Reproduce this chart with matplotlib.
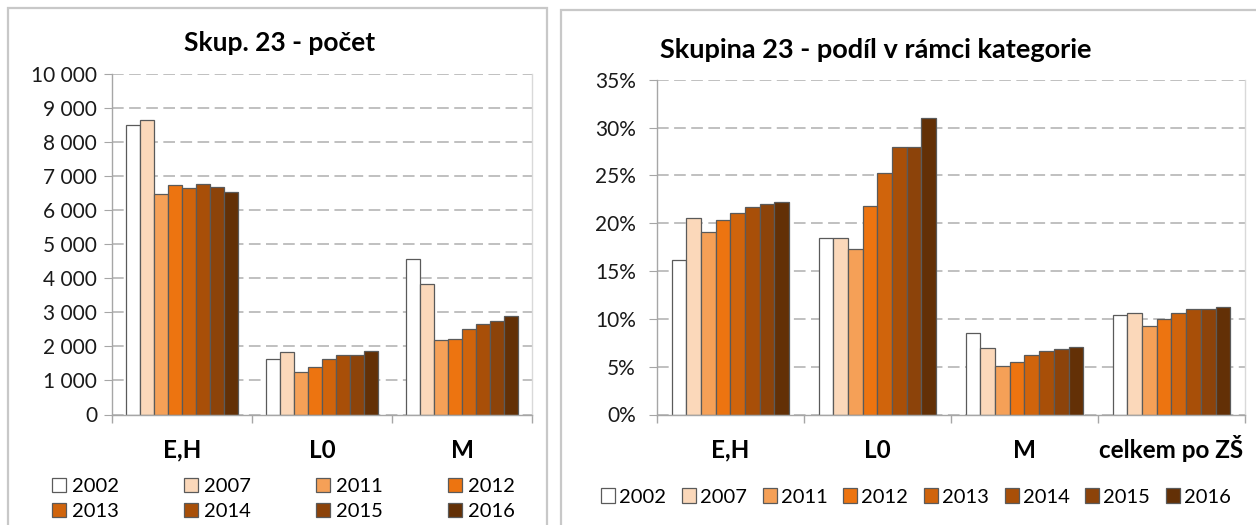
import matplotlib
matplotlib.use("Agg")
import matplotlib.pyplot as plt
import numpy as np
from matplotlib.patches import Rectangle, Patch
from matplotlib.ticker import FuncFormatter, FixedLocator

plt.rcParams['font.family'] = ['Lato', 'DejaVu Sans']

years = ['2002', '2007', '2011', '2012', '2013', '2014', '2015', '2016']
colors = ['#FFFFFF', '#FBD8BA', '#F5A057', '#ED7410', '#D0640C', '#A84F08', '#8C430A', '#633006']

cats_left = ['E,H', 'L0', 'M']
counts = {
    '2002': [8520, 1630, 4560],
    '2007': [8670, 1850, 3840],
    '2011': [6490, 1255, 2190],
    '2012': [6745, 1400, 2225],
    '2013': [6670, 1620, 2510],
    '2014': [6785, 1745, 2665],
    '2015': [6685, 1745, 2745],
    '2016': [6530, 1855, 2905],
}

cats_right = ['E,H', 'L0', 'M', 'celkem po ZŠ']
shares = {
    '2002': [16.1, 18.4, 8.56, 10.42],
    '2007': [20.55, 18.4, 6.92, 10.66],
    '2011': [19.1, 17.35, 5.07, 9.23],
    '2012': [20.3, 21.75, 5.45, 10.03],
    '2013': [21.1, 25.2, 6.25, 10.66],
    '2014': [21.65, 28.0, 6.64, 11.08],
    '2015': [22.05, 28.0, 6.82, 11.08],
    '2016': [22.2, 31.0, 7.09, 11.23],
}

W, H = 1256, 525
fig = plt.figure(figsize=(W / 100, H / 100), dpi=100)

def fx(px):
    return px / W

def fy(py):
    return 1 - py / H

# panel borders
fig.patches.append(Rectangle((fx(8), fy(560)), fx(547) - fx(8), fy(8) - fy(560),
                             transform=fig.transFigure, fill=False, ec='#C8C8C8', lw=1.6))
fig.patches.append(Rectangle((fx(561), fy(560)), fx(1300) - fx(561), fy(9.5) - fy(560),
                             transform=fig.transFigure, fill=False, ec='#C8C8C8', lw=1.6))

edge = '#5A5A5A'
gridc = '#C0C0C0'
axc = '#A6A6A6'

def style_axes(ax, cats, ymax, step, fmt, ticklen, tickpad, label_fs, label_pad):
    ncat = len(cats)
    ax.set_xlim(-0.5, ncat - 0.5)
    ax.set_ylim(0, ymax)
    ax.yaxis.set_major_locator(FixedLocator(np.arange(0, ymax + step / 2, step)))
    ax.yaxis.set_major_formatter(FuncFormatter(fmt))
    ax.grid(axis='y', color=gridc, lw=1.4, dashes=(6, 2.8))
    ax.set_axisbelow(True)
    ax.spines['top'].set_visible(False)
    ax.spines['right'].set_color('#D9D9D9')
    ax.spines['right'].set_linewidth(1.0)
    for s in ['left', 'bottom']:
        ax.spines[s].set_color(axc)
        ax.spines[s].set_linewidth(1.0)
    ax.tick_params(axis='y', length=ticklen, color=axc, pad=tickpad, labelsize=15, labelcolor='#1a1a1a')
    ax.set_xticks(np.arange(ncat))
    ax.set_xticklabels(cats, fontweight='bold', va='baseline')
    ax.tick_params(axis='x', which='major', length=0, pad=label_pad, labelsize=label_fs)
    ax.set_xticks(np.arange(-0.5, ncat, 1.0), minor=True)
    ax.tick_params(axis='x', which='minor', length=6, color=axc, width=1.0)

handles = [Patch(facecolor=colors[i], edgecolor=edge, linewidth=0.9, label=y)
           for i, y in enumerate(years)]

# left chart
axL = fig.add_axes([fx(112.5), fy(414.5), fx(532) - fx(112.5), fy(74.3) - fy(414.5)])
xL = np.arange(len(cats_left))
for i, y in enumerate(years):
    axL.bar(xL - 0.4 + 0.05 + i * 0.1, counts[y], width=0.1, color=colors[i],
            edgecolor=edge, linewidth=0.9, label=y)
style_axes(axL, cats_left, 10000, 1000,
           lambda v, p: f"{int(v):,}".replace(',', ' '),
           6, 5, 17.5, 31)
fig.text(fx(280), fy(43), 'Skup. 23 - počet', ha='center', va='center',
         fontsize=19, fontweight='bold')

order = [0, 4, 1, 5, 2, 6, 3, 7]
legL = fig.legend(handles=[handles[k] for k in order], ncol=4, loc='center left',
                  bbox_to_anchor=(fx(52), fy(499)), frameon=False, fontsize=14.5,
                  handlelength=0.7, handleheight=0.7, handletextpad=0.3,
                  columnspacing=3.22, labelspacing=0.42, borderpad=0, borderaxespad=0)

# right chart
axR = fig.add_axes([fx(656.8), fy(414.5), fx(1245) - fx(656.8), fy(79.7) - fy(414.5)])
xR = np.arange(len(cats_right))
for i, y in enumerate(years):
    axR.bar(xR - 0.4 + 0.05 + i * 0.1, shares[y], width=0.1, color=colors[i],
            edgecolor=edge, linewidth=0.9, label=y)
style_axes(axR, cats_right, 35, 5, lambda v, p: f"{int(round(v))}%", 6, 9, 17.5, 31)
fig.text(fx(876), fy(50), 'Skupina 23 - podíl v rámci kategorie', ha='center', va='center',
         fontsize=19.5, fontweight='bold')

legR = fig.legend(handles=handles, ncol=8, loc='center left',
                  bbox_to_anchor=(fx(601), fy(497)), frameon=False, fontsize=14.5,
                  handlelength=0.7, handleheight=0.7, handletextpad=0.2,
                  columnspacing=0.78, borderpad=0, borderaxespad=0)

fig.savefig('out.png', dpi=100)
